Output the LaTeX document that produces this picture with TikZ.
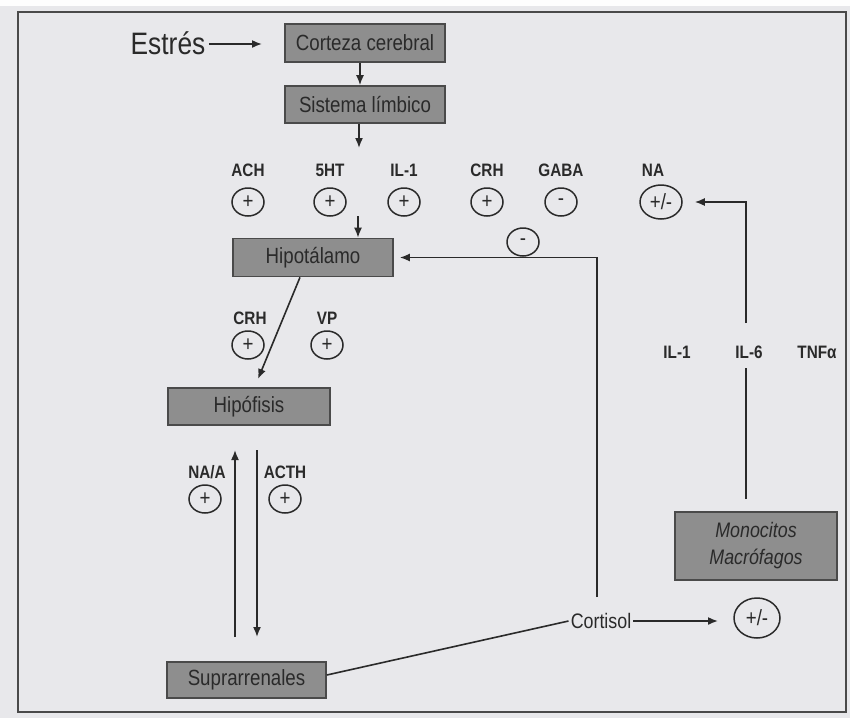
\documentclass[tikz,border=0pt]{standalone}
\usepackage{fontspec}
\setmainfont[FakeStretch=0.85]{Liberation Sans}
\usetikzlibrary{arrows.meta,shapes.geometric}
\definecolor{bg}{HTML}{E8E8EB}
\definecolor{boxfill}{HTML}{8E8E8E}
\definecolor{ink}{HTML}{2A2A2A}
\begin{document}
\begin{tikzpicture}[x=1pt,y=-1pt,
  box/.style={draw=ink!85, line width=1.6pt, fill=boxfill, minimum width=160pt, minimum height=38pt, inner sep=0pt, font=\fontsize{22}{25}\selectfont, text=ink},
  lab/.style={font=\bfseries\fontsize{18}{20}\selectfont, text=ink, inner sep=0pt},
  sign/.style={draw=ink, line width=1.5pt, ellipse, minimum width=32pt, minimum height=28pt, inner sep=0pt, font=\fontsize{22}{22}\selectfont, text=ink},
  arr/.style={draw=ink, line width=1.6pt, -{Latex[length=10pt,width=8pt]}},
  ln/.style={draw=ink, line width=1.6pt}]
\useasboundingbox (0,0) rectangle (850,718);
\fill[bg] (0,0) rectangle (850,718);
\fill[white!96!bg] (0,0) rectangle (850,6);
\draw[line width=2pt, draw=ink!85] (18,12) rectangle (846,712);

% top chain
\node[font=\fontsize{31}{34}\selectfont, text=ink] (estres) at (168,43) {Estrés};
\coordinate (estresTip) at (262,44);
\draw[arr] (estres.east |- estresTip) -- (estresTip);
\node[box] (corteza) at (365,43) {Corteza cerebral};
\node[box, minimum height=37pt] (limbico) at (365,104.5) {Sistema límbico};
\draw[arr] ([xshift=-5pt]corteza.south) -- ([xshift=-5pt]limbico.north);
\coordinate (limbTip) at (359,148);
\draw[arr] (limbico.south -| limbTip) -- (limbTip);

% neurotransmitter row
\node[lab] (lACH) at (248,170) {ACH};  \node[sign] (sACH) at (248,202) {+};
\node[lab] (l5HT) at (330,170) {5HT};  \node[sign] (s5HT) at (330,202) {+};
\node[lab] (lIL1) at (404,170) {IL-1}; \node[sign] (sIL1) at (404,202) {+};
\node[lab] (lCRH) at (487,170) {CRH};  \node[sign] (sCRH) at (487,202) {+};
\node[lab] (lGABA) at (561,170) {GABA}; \node[sign] (sGABA) at (561,202) {-};
\node[lab] (lNA) at (653,170) {NA};
\node[sign, minimum width=42pt, minimum height=34pt] (sNA) at (661,202) {+/-};

% hipotalamo
\node[box] (hipo) at (313,257.5) {Hipotálamo};
\coordinate (hipoFrom) at (358,216);
\draw[arr] (hipoFrom) -- (hipo.north -| hipoFrom);
\node[sign] (sMinus) at (523,242) {-};

\node[lab] (lCRH2) at (250,318) {CRH}; \node[sign] (sCRH2) at (248,345) {+};
\node[lab] (lVP) at (327,318) {VP};    \node[sign] (sVP) at (327,345) {+};

% hipofisis
\node[box, minimum width=162pt, minimum height=37pt] (hipof) at (249,406.5) {Hipófisis};
\coordinate (diagTip) at (258,379);
\draw[arr] ([xshift=-13pt]hipo.south) -- (diagTip);

% suprarrenales
\node[box, minimum width=159pt, minimum height=36pt] (supra) at (246.5,680) {Suprarrenales};
\coordinate (upTop) at (235,450); \coordinate (upBot) at (235,637);
\draw[arr] (upBot) -- (upTop);
\coordinate (dnTop) at (257,450); \coordinate (dnBot) at (257,637);
\draw[arr] (dnTop) -- (dnBot);
\node[lab] (lNAA) at (207,472) {NA/A}; \node[sign] (sNAA) at (205,499) {+};
\node[lab] (lACTH) at (285,472) {ACTH}; \node[sign] (sACTH) at (285,499) {+};

% cortisol
\node[font=\fontsize{21}{23}\selectfont, text=ink, inner sep=2pt] (cortisol) at (601,621) {Cortisol};
\draw[ln] ([yshift=5pt]supra.east) -- (cortisol.west);
\draw[arr, shorten <=14pt, shorten >=6pt] ([xshift=-4pt]cortisol.north) |- (hipo.east);
\node[sign, minimum width=46pt, minimum height=40pt] (sCort) at (757,618) {+/-};
\coordinate (cortTip) at (718,621);
\draw[arr] (cortisol.east) -- (cortTip);

% monocitos
\node[box, minimum width=162pt, minimum height=68pt, align=center, font=\itshape\fontsize{21}{27}\selectfont] (mono) at (756,546) {Monocitos\\Macrófagos};
\node[lab] (lIL1b) at (677,352) {IL-1};
\node[lab] (lIL6) at (749,352) {IL-6};
\node[lab] (lTNF) at (817,352) {TNFα};
\coordinate (il6Low) at (746,368);
\coordinate (il6High) at (746,323);
\draw[ln, shorten <=12pt] ([xshift=-10pt]mono.north) -- (il6Low);
\draw[arr, shorten >=12pt] (il6High) |- (sNA.east);
\end{tikzpicture}
\end{document}
